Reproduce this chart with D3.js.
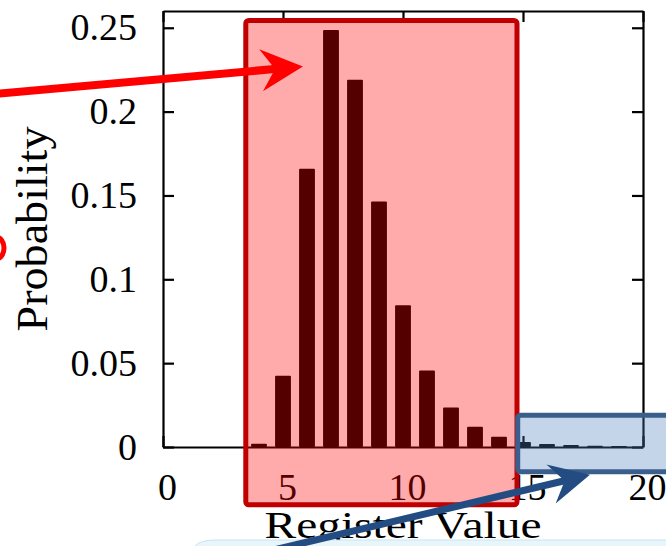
<!DOCTYPE html>
<html lang="en">
<head>
    <meta charset="UTF-8">
    <title>Register Value Distribution</title>
    <script src="https://cdnjs.cloudflare.com/ajax/libs/d3/7.8.5/d3.min.js"></script>
    <style>
    html, body {
        margin: 0;
        background: white;
        overflow: hidden;
    }

    text {
        font-family: "Liberation Serif", "Times New Roman", serif;
    }
</style>
</head>
<body>
    <div id="chart"></div>
    <script>
    // register values and their probability
    var registerValues = [4, 5, 6, 7, 8, 9, 10, 11, 12, 13, 14, 15, 16, 17, 18, 19];
    var probabilities = [0.002, 0.0425, 0.166, 0.2486, 0.219, 0.1464, 0.0846, 0.0456,
                         0.0235, 0.0121, 0.0061, 0.003, 0.0018, 0.0012, 0.0008, 0.0006];

    var xTicks = [0, 5, 10, 15, 20];
    var yTicks = [0, 0.05, 0.1, 0.15, 0.2, 0.25];
    var yTickLabels = ['0', '0.05', '0.1', '0.15', '0.2', '0.25'];

    // highlight boxes and arrows, in data units
    var redBox = { x0: 3.45, x1: 14.75, y0: -0.0345, y1: 0.2544 };
    var blueBox = { x0: 14.78, x1: 21.6, y0: -0.0148, y1: 0.019 };
    var redArrow = { from: [-7.0, 0.2105], to: [5.83, 0.2269] };
    var blueArrow = { from: [4.0, -0.0635], to: [17.79, -0.0165] };

    var width = 666;
    var height = 546;

    var margin = {
        top: 11,
        bottom: 99,
        left: 163,
        right: 23
    };

    var svg = d3.select('#chart')
        .append('svg')
            .attr('width', width)
            .attr('height', height);

    var x = d3.scaleLinear()
        .domain([0, 20])
        .range([margin.left, width - margin.right]);

    var y = d3.scaleLinear()
        .domain([0, 0.26])
        .range([height - margin.bottom, margin.top]);

    var barWidth = x(0.66) - x(0);

    // bars
    svg.append('g')
        .selectAll('rect')
        .data(registerValues)
        .enter()
        .append('rect')
            .attr('x', function(d){ return x(d) - barWidth / 2; })
            .attr('y', function(d, i){ return y(probabilities[i]); })
            .attr('width', barWidth)
            .attr('height', function(d, i){ return y(0) - y(probabilities[i]); })
            .attr('rx', 1)
            .attr('fill', 'black');

    // frame with inward ticks
    var axisLeft = d3.axisLeft(y)
        .tickValues(yTicks)
        .tickFormat(function(d, i){ return yTickLabels[i]; })
        .tickSizeInner(-11)
        .tickSizeOuter(0)
        .tickPadding(26);

    var axisRight = d3.axisRight(y)
        .tickValues(yTicks)
        .tickFormat('')
        .tickSizeInner(-11)
        .tickSizeOuter(0);

    var axisBottom = d3.axisBottom(x)
        .tickValues(xTicks)
        .tickFormat(d3.format('d'))
        .tickSizeInner(-11)
        .tickSizeOuter(0)
        .tickPadding(26);

    var axisTop = d3.axisTop(x)
        .tickValues(xTicks)
        .tickFormat('')
        .tickSizeInner(-11)
        .tickSizeOuter(0);

    function styleAxis(g){
        g.selectAll('path, line')
            .attr('stroke', 'black')
            .attr('stroke-width', 2.2);
        g.selectAll('text')
            .attr('fill', 'black')
            .style('font-size', '38px');
    }

    svg.append('g')
        .attr('transform', 'translate(' + margin.left + ',0)')
        .call(axisLeft)
        .call(styleAxis);

    svg.append('g')
        .attr('transform', 'translate(' + (width - margin.right) + ',0)')
        .call(axisRight)
        .call(styleAxis);

    var bottomAxis = svg.append('g')
        .attr('transform', 'translate(0,' + (height - margin.bottom) + ')')
        .call(axisBottom)
        .call(styleAxis);

    bottomAxis.selectAll('text')
        .attr('dx', 4);

    svg.append('g')
        .attr('transform', 'translate(0,' + margin.top + ')')
        .call(axisTop)
        .call(styleAxis);

    // axis titles
    svg.append('text')
        .attr('x', (x(0) + x(20)) / 2)
        .attr('y', 538)
        .attr('text-anchor', 'middle')
        .attr('textLength', 277)
        .attr('lengthAdjust', 'spacingAndGlyphs')
        .style('font-size', '38px')
        .text('Register Value');

    svg.append('text')
        .attr('transform', 'translate(47,' + ((y(0) + y(0.26)) / 2) + ') rotate(-90)')
        .attr('text-anchor', 'middle')
        .attr('textLength', 205)
        .attr('lengthAdjust', 'spacingAndGlyphs')
        .style('font-size', '45px')
        .text('Probability');

    // light callout strip at the bottom edge
    svg.append('path')
        .attr('d', 'M195,546 Q200,540 215,540 L672,540 L672,552 L195,552 Z')
        .attr('fill', '#e8f6fb')
        .attr('stroke', '#c4e5f0')
        .attr('stroke-width', 1);

    // clipped red shape on the far left edge
    svg.append('ellipse')
        .attr('cx', -4)
        .attr('cy', 248)
        .attr('rx', 8)
        .attr('ry', 11)
        .attr('fill', 'none')
        .attr('stroke', '#ff0000')
        .attr('stroke-width', 5);

    // highlight boxes
    function box(b, fill, stroke){
        svg.append('rect')
            .attr('x', x(b.x0))
            .attr('y', y(b.y1))
            .attr('width', x(b.x1) - x(b.x0))
            .attr('height', y(b.y0) - y(b.y1))
            .attr('rx', 3)
            .attr('fill', fill)
            .attr('stroke', stroke)
            .attr('stroke-width', 5);
    }

    box(redBox, 'rgba(255, 0, 0, 0.33)', '#c00000');
    box(blueBox, 'rgba(79, 129, 189, 0.33)', '#3a5f8d');

    // arrows with a notched head
    function arrow(a, color, lineWidth, headLen, headHalf, notch){
        var x1 = x(a.from[0]), y1 = y(a.from[1]);
        var x2 = x(a.to[0]), y2 = y(a.to[1]);
        var len = Math.sqrt((x2 - x1) * (x2 - x1) + (y2 - y1) * (y2 - y1));
        var ux = (x2 - x1) / len, uy = (y2 - y1) / len;
        var nx = -uy, ny = ux;

        svg.append('line')
            .attr('x1', x1)
            .attr('y1', y1)
            .attr('x2', x2 - ux * (notch - 2))
            .attr('y2', y2 - uy * (notch - 2))
            .attr('stroke', color)
            .attr('stroke-width', lineWidth);

        var head = [
            [x2, y2],
            [x2 - ux * headLen + nx * headHalf, y2 - uy * headLen + ny * headHalf],
            [x2 - ux * notch, y2 - uy * notch],
            [x2 - ux * headLen - nx * headHalf, y2 - uy * headLen - ny * headHalf]
        ];

        svg.append('path')
            .attr('d', d3.line()(head) + 'Z')
            .attr('fill', color);
    }

    arrow(redArrow, '#ff0000', 8, 42, 21, 28);
    arrow(blueArrow, '#234d82', 7, 40, 20, 26);

    </script>
</body>
</html>
